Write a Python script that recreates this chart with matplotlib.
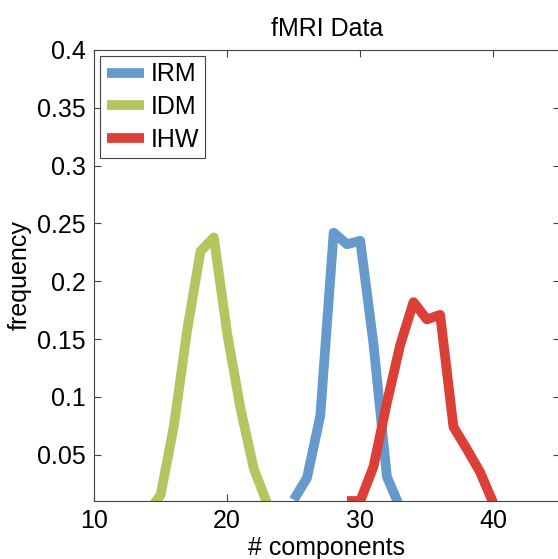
import matplotlib
matplotlib.use('Agg')
import matplotlib.pyplot as plt

plt.rcParams['font.family'] = ['Liberation Sans', 'DejaVu Sans']

# frequency of number of components
x_irm = [25, 26, 27, 28, 29, 30, 31, 32, 33]
y_irm = [0.011, 0.03, 0.084, 0.242, 0.232, 0.235, 0.145, 0.031, 0.004]

x_idm = [14, 15, 16, 17, 18, 19, 20, 21, 22, 23]
y_idm = [0.0, 0.015, 0.075, 0.158, 0.226, 0.238, 0.155, 0.09, 0.038, 0.008]

x_ihw = [29, 30, 31, 32, 33, 34, 35, 36, 37, 38, 39, 40]
y_ihw = [0.01, 0.01, 0.04, 0.095, 0.145, 0.182, 0.167, 0.171, 0.074, 0.055, 0.035, 0.008]

fig = plt.figure(figsize=(5.58, 5.59), dpi=100)
ax = fig.add_axes([0.1685, 0.1038, 0.835, 0.8068])

lw = 7
ax.plot(x_irm, y_irm, color='#6699cc', lw=lw, label='IRM', solid_capstyle='butt')
ax.plot(x_idm, y_idm, color='#b5c55f', lw=lw, label='IDM', solid_capstyle='butt')
ax.plot(x_ihw, y_ihw, color='#db3f36', lw=lw, label='IHW', solid_capstyle='butt')

ax.set_xlim(10, 45)
ax.set_ylim(0.01, 0.4)
ax.set_xticks([10, 20, 30, 40])
ax.set_yticks([0.05, 0.1, 0.15, 0.2, 0.25, 0.3, 0.35, 0.4])
ax.set_yticklabels(['0.05', '0.1', '0.15', '0.2', '0.25', '0.3', '0.35', '0.4'])
ax.tick_params(direction='in', length=5, width=0.8, color='#444444',
               labelsize=18, top=True, right=True, pad=6)
for s in ax.spines.values():
    s.set_color('#444444')
    s.set_linewidth(0.8)

ax.set_xlabel('# components', fontsize=18, labelpad=2)
ax.set_ylabel('frequency', fontsize=18, labelpad=4)
ax.set_title('fMRI Data', fontsize=18, pad=10)

leg = ax.legend(loc='upper left', fontsize=18, handlelength=1.5, handletextpad=0.25,
                borderpad=0.25, labelspacing=0.35, borderaxespad=0.25, fancybox=False,
                framealpha=1)
leg.get_frame().set_edgecolor('#444444')
leg.get_frame().set_linewidth(0.8)

fig.savefig('out.png', dpi=100)
